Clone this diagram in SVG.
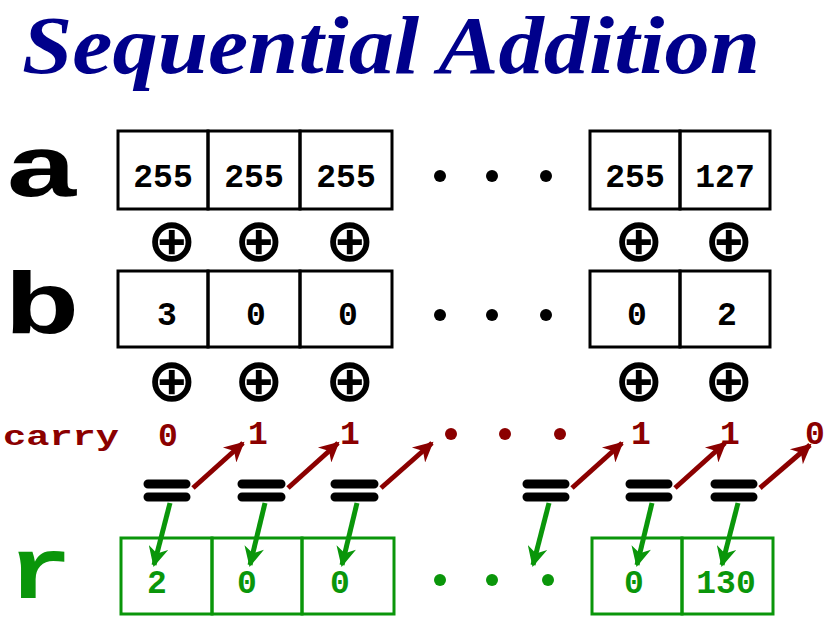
<svg xmlns="http://www.w3.org/2000/svg" width="830" height="619" viewBox="0 0 830 619">
<defs>
<style>
.bx{fill:none;stroke:#000;stroke-width:3}
.gb{fill:none;stroke:#0a960a;stroke-width:3}
.v{font-family:"Liberation Mono",monospace;font-weight:bold;font-size:33px;text-anchor:middle}
.lab{font-family:"Liberation Mono",monospace;font-weight:bold;font-size:88px}
.op{font-family:"DejaVu Sans",sans-serif;font-weight:bold;font-size:60px;text-anchor:middle}
.eq{stroke:#000;stroke-width:9;stroke-linecap:round}
.ra{stroke:#8b0000;stroke-width:5;marker-end:url(#mr)}
.ga{stroke:#0a960a;stroke-width:5;marker-end:url(#mg)}
</style>
<marker id="mr" viewBox="0 0 10 10" refX="9" refY="5" markerWidth="5" markerHeight="4" orient="auto" markerUnits="strokeWidth"><path d="M0,0L10,5L0,10L3,5z" fill="#8b0000"/></marker>
<marker id="mg" viewBox="0 0 10 10" refX="9" refY="5" markerWidth="5" markerHeight="4" orient="auto" markerUnits="strokeWidth"><path d="M0,0L10,5L0,10L3,5z" fill="#0a960a"/></marker>
</defs>
<rect width="830" height="619" fill="#fff"/>
<text x="391" y="73" text-anchor="middle" font-family="Liberation Serif,serif" font-weight="bold" font-style="italic" font-size="82" textLength="738" lengthAdjust="spacingAndGlyphs" fill="#00008b">Sequential Addition</text>
<g id="labels">
<text class="lab" x="4" y="196" textLength="76" lengthAdjust="spacingAndGlyphs">a</text>
<text class="lab" x="4" y="333" textLength="76" lengthAdjust="spacingAndGlyphs">b</text>
<text class="lab" x="8" y="598" fill="#0a960a" textLength="64" lengthAdjust="spacingAndGlyphs">r</text>
<text x="3" y="445" font-family="Liberation Mono,monospace" font-weight="bold" font-size="28" textLength="116" lengthAdjust="spacingAndGlyphs" fill="#8b0000">carry</text>
</g>
<g id="rowA">
<rect class="bx" x="118" y="131" width="90" height="78"/><rect class="bx" x="208" y="131" width="92" height="78"/><rect class="bx" x="300" y="131" width="92" height="78"/>
<rect class="bx" x="590" y="131" width="90" height="78"/><rect class="bx" x="680" y="131" width="90" height="78"/>
<text class="v" x="163" y="187">255</text><text class="v" x="254" y="187">255</text><text class="v" x="346" y="187">255</text><text class="v" x="635" y="187">255</text><text class="v" x="725" y="187">127</text>
<circle cx="440" cy="176" r="6"/><circle cx="492" cy="176" r="6"/><circle cx="546" cy="176" r="6"/>
</g>
<g id="ops1"><text class="op" x="172" y="261">⊕</text><text class="op" x="259" y="261">⊕</text><text class="op" x="350" y="261">⊕</text><text class="op" x="639" y="261">⊕</text><text class="op" x="729" y="261">⊕</text></g>
<g id="rowB">
<rect class="bx" x="118" y="271" width="90" height="76"/><rect class="bx" x="208" y="271" width="92" height="76"/><rect class="bx" x="300" y="271" width="92" height="76"/>
<rect class="bx" x="590" y="271" width="90" height="76"/><rect class="bx" x="680" y="271" width="90" height="76"/>
<text class="v" x="167" y="325">3</text><text class="v" x="256" y="325">0</text><text class="v" x="348" y="325">0</text><text class="v" x="637" y="325">0</text><text class="v" x="727" y="325">2</text>
<circle cx="440" cy="315" r="6"/><circle cx="492" cy="315" r="6"/><circle cx="546" cy="315" r="6"/>
</g>
<g id="ops2"><text class="op" x="172" y="401">⊕</text><text class="op" x="259" y="401">⊕</text><text class="op" x="350" y="401">⊕</text><text class="op" x="639" y="401">⊕</text><text class="op" x="729" y="401">⊕</text></g>
<g id="carry" fill="#8b0000">
<text class="v" x="168" y="446" font-size="36">0</text><text class="v" x="258" y="444" font-size="36">1</text><text class="v" x="350" y="444" font-size="36">1</text>
<circle cx="451" cy="434" r="6"/><circle cx="505" cy="434" r="6"/><circle cx="560" cy="434" r="6"/>
<text class="v" x="641" y="444" font-size="36">1</text><text class="v" x="730" y="444" font-size="36">1</text><text class="v" x="815" y="444" font-size="36">0</text>
</g>
<g id="equals">
<path class="eq" d="M148,484H186M148,497H186M242,484H281M242,497H281M335,484H374M335,497H374M527,484H565M527,497H565M630,484H668M630,497H668M715,484H753M715,497H753"/>
</g>
<g id="connectors">
<line class="ra" x1="193" y1="488" x2="243" y2="443"/><line class="ra" x1="288" y1="488" x2="338" y2="443"/><line class="ra" x1="381" y1="488" x2="432" y2="443"/>
<line class="ra" x1="572" y1="488" x2="622" y2="443"/><line class="ra" x1="675" y1="488" x2="725" y2="443"/><line class="ra" x1="760" y1="488" x2="810" y2="445"/>
<line class="ga" x1="170" y1="503" x2="154" y2="565"/><line class="ga" x1="265" y1="503" x2="250" y2="565"/><line class="ga" x1="357" y1="503" x2="342" y2="565"/>
<line class="ga" x1="549" y1="503" x2="533" y2="565"/><line class="ga" x1="652" y1="503" x2="637" y2="565"/><line class="ga" x1="738" y1="503" x2="722" y2="565"/>
</g>
<g id="rowR" fill="#0a960a">
<rect class="gb" x="121" y="538" width="91" height="76"/><rect class="gb" x="212" y="538" width="90" height="76"/><rect class="gb" x="302" y="538" width="92" height="76"/>
<rect class="gb" x="592" y="538" width="90" height="76"/><rect class="gb" x="682" y="538" width="91" height="76"/>
<text class="v" x="157" y="593">2</text><text class="v" x="247" y="593">0</text><text class="v" x="340" y="593">0</text><text class="v" x="634" y="593">0</text><text class="v" x="726" y="593">130</text>
<circle cx="440" cy="580" r="6"/><circle cx="492" cy="580" r="6"/><circle cx="548" cy="580" r="6"/>
</g>
</svg>
